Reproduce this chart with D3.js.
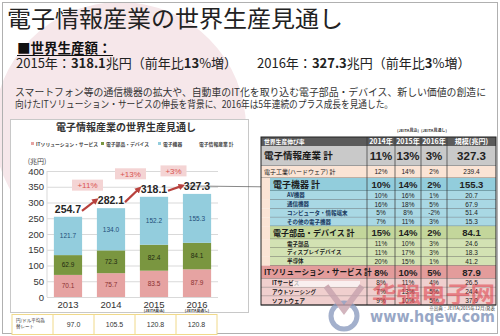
<!DOCTYPE html>
<html><head><meta charset="utf-8">
<script src="https://cdn.jsdelivr.net/npm/d3@7"></script>
<style>body{margin:0;background:#fff}svg{display:block}</style>
</head><body>
<script>
// ---------- data ----------
const years = ["2013","2014","2015","2016"];
const yearNotes = ["","","(JEITA見込)","(JEITA見通し)"];
const itService = [70.1, 75.7, 83.5, 87.9];
const devices = [62.9, 72.3, 82.4, 84.1];
const equipment = [121.7, 134.0, 152.2, 155.3];
const totals = [254.7, 282.1, 318.1, 327.3];
const growthLabels = ["+11%","+13%","+3%"];
const yTicks = [0,50,100,150,200,250,300,350,400];
const fxRates = ["97.0","105.5","120.8","120.8"];
const seriesNames = ["ITソリューション・サービス","電子部品・デバイス","電子機器","電子情報産業 計"];

const tableHeaders = ["世界生産伸び率","2014年","2015年","2016年","規模(兆円)"];
const rowLabels = ["電子情報産業 計","電子工業(ハードウェア) 計","電子機器 計","AV機器","通信機器","コンピュータ・情報端末","その他の電子機器","電子部品・デバイス 計","電子部品","ディスプレイデバイス","半導体","ITソリューション・サービス 計","ITサービス","アウトソーシング","ソフトウェア"];
const growth2014 = [11,12,10,10,16,5,7,15,11,11,20,8,8,7,9];
const growth2015 = [13,14,14,16,18,8,11,14,10,17,15,10,11,13,10];
const growth2016 = [3,2,2,1,5,-2,3,2,3,3,1,5,4,5,5];
const scaleTrillion = ["327.3","239.4","155.3","20.7","67.9","51.4","15.3","84.1","24.6","18.3","41.2","87.9","26.5","24.4","37.0"];

// ---------- styles ----------
const JP = "'Noto Sans CJK JP','Noto Sans',sans-serif";
const NUM = "'Liberation Sans',Arial,sans-serif";
const C = {it:"#e6a3a2", dev:"#7a9640", eq:"#93cddd", red:"#b8413d"};

const svg = d3.select("body").append("svg").attr("width",500).attr("height",336);
svg.append("rect").attr("width",500).attr("height",336).attr("fill","#fff");
svg.append("circle").attr("cx",120).attr("cy",128).attr("r",126).attr("fill","#f6e7ea");
svg.append("rect").attr("x",2.5).attr("y",2.5).attr("width",495).attr("height",331)
  .attr("fill","none").attr("stroke","#b0b0b0");

// text helper: tiny sizes are drawn at 10px and scaled (browser min font size)
function txt(parent, x, y, size, str, o={}){
  const small = size < 7;
  return parent.append("text")
    .attr("transform", small ? `translate(${x},${y}) scale(${size/10})` : null)
    .attr("x", small?0:x).attr("y", small?0:y)
    .attr("font-size", small?10:size)
    .attr("font-family", o.font||JP)
    .attr("font-weight", o.bold?"bold":"normal")
    .attr("fill", o.fill||"#333")
    .attr("text-anchor", o.anchor||"start")
    .text(str);
}

// ---------- slide header ----------
svg.append("text").attr("x",7).attr("y",27).attr("font-family",JP).attr("font-size",23)
  .attr("fill","#222").attr("textLength",336).attr("lengthAdjust","spacingAndGlyphs").text("電子情報産業の世界生産見通し");
svg.append("text").attr("x",17).attr("y",53).attr("font-family",JP).attr("font-size",13.5)
  .attr("font-weight","bold").attr("fill","#111").text("■世界生産額：");
svg.append("line").attr("x1",17).attr("x2",113).attr("y1",55.5).attr("y2",55.5).attr("stroke","#111").attr("stroke-width",1.2);

function richLine(x, y, parts){
  const t = svg.append("text").attr("x",x).attr("y",y).attr("font-family",JP).attr("font-size",13).attr("fill","#222");
  parts.forEach(p=>t.append("tspan").attr("font-weight",p[1]?"bold":"normal").text(p[0]));
}
richLine(16,68,[["2015年：",0],["318.1",1],["兆円（前年比",0],["13",1],["%増）",0]]);
richLine(257,68,[["2016年：",0],["327.3",1],["兆円（前年比",0],["3",1],["%増）",0]]);
svg.append("text").attr("x",15).attr("y",96).attr("font-family",JP).attr("font-size",10).attr("fill","#333")
  .attr("textLength",471).attr("lengthAdjust","spacingAndGlyphs")
  .text("スマートフォン等の通信機器の拡大や、自動車のIT化を取り込む電子部品・デバイス、新しい価値の創造に");
svg.append("text").attr("x",15).attr("y",108).attr("font-family",JP).attr("font-size",10).attr("fill","#333")
  .attr("textLength",378).attr("lengthAdjust","spacingAndGlyphs")
  .text("向けたITソリューション・サービスの伸長を背景に、2016年は5年連続のプラス成長を見通した。");

// ---------- chart card ----------
svg.append("rect").attr("x",10.5).attr("y",119.5).attr("width",238).attr("height",193)
  .attr("fill","#fff").attr("stroke","#c8c8c8");
svg.append("text").attr("x",126).attr("y",131).attr("text-anchor","middle").attr("font-family",JP)
  .attr("font-size",10).attr("font-weight","bold").attr("fill","#333").text("電子情報産業の世界生産見通し");

// legend
const legX = [31,101,158,197];
const legCol = [C.it, C.dev, C.eq, null];
seriesNames.forEach((n,i)=>{
  if(legCol[i]) svg.append("rect").attr("x",legX[i]).attr("y",142).attr("width",3).attr("height",3).attr("fill",legCol[i]);
  txt(svg, legX[i]+(legCol[i]?5:2), 145.5, 4.8, n, {bold:true, fill:"#444"});
});

const x = d3.scaleBand().domain(years).range([47,218]).paddingInner(0.344).paddingOuter(0.16);
const y = d3.scaleLinear().domain([0,400]).range([297,171]);

// grid
svg.append("g").attr("transform","translate(47,0)")
  .call(d3.axisLeft(y).tickValues(yTicks).tickSize(-171).tickFormat(""))
  .call(g=>g.select(".domain").remove())
  .call(g=>g.selectAll("line").attr("stroke","#d9d9d9"));
svg.append("line").attr("x1",47).attr("x2",47).attr("y1",y(400)).attr("y2",y(0)).attr("stroke","#d9d9d9");
// y axis labels
svg.append("g").attr("transform","translate(44,0)")
  .call(d3.axisLeft(y).tickValues(yTicks).tickSize(0).tickPadding(0))
  .call(g=>g.select(".domain").remove())
  .call(g=>g.selectAll("text").attr("font-family",NUM).attr("font-size",9.5).attr("fill","#333"));
svg.append("text").attr("x",37).attr("y",164).attr("text-anchor","middle").attr("font-family",JP)
  .attr("font-size",7).attr("fill","#444").text("(兆円)");

// stacked bars
const rows = years.map((yr,i)=>({year:yr, it:itService[i], dev:devices[i], eq:equipment[i]}));
const keys = ["it","dev","eq"];
const stack = d3.stack().keys(keys)(rows);
const labelCol = {it:"#8a3030", dev:"#1e2a10", eq:"#1f4e79"};
stack.forEach(s=>{
  const g = svg.append("g");
  g.selectAll("rect").data(s).join("rect")
    .attr("x",d=>x(d.data.year)).attr("width",x.bandwidth())
    .attr("y",d=>y(d[1])).attr("height",d=>y(d[0])-y(d[1])).attr("fill",C[s.key]);
  s.forEach(d=>{
    txt(g, x(d.data.year)+x.bandwidth()/2, (y(d[0])+y(d[1]))/2+2.3, 6.5, d.data[s.key].toFixed(1),
      {font:NUM, anchor:"middle", fill:labelCol[s.key]});
  });
});

// x labels
years.forEach((yr,i)=>{
  const cx = x(yr)+x.bandwidth()/2;
  svg.append("text").attr("x",cx).attr("y",308).attr("text-anchor","middle").attr("font-family",NUM)
    .attr("font-size",9.5).attr("fill","#333").text(yr);
  if(yearNotes[i]) txt(svg, cx, 312.3, 3.8, yearNotes[i], {anchor:"middle", bold:true});
});

// leader line to table
svg.append("line").attr("x1",185).attr("x2",270).attr("y1",y(totals[3])-8).attr("y2",y(totals[3])-7)
  .attr("stroke","#555").attr("stroke-width",0.7);

// totals
const baseY = totals.map(t=>y(t)-4);
const cxs = years.map(yr=>x(yr)+x.bandwidth()/2);
totals.forEach((t,i)=>{
  svg.append("text").attr("x",cxs[i]).attr("y",baseY[i]).attr("text-anchor","middle").attr("font-family",NUM)
    .attr("font-size",10.5).attr("font-weight","bold").attr("fill","#262626").text(t.toFixed(1));
});

// arrows
svg.append("defs").append("marker").attr("id","ah").attr("viewBox","0 0 10 10").attr("refX",5).attr("refY",5)
  .attr("markerWidth",3).attr("markerHeight",3).attr("orient","auto")
  .append("path").attr("d","M0,0L10,5L0,10z").attr("fill",C.red);
growthLabels.forEach((lab,i)=>{
  const x1 = cxs[i]+14, y1 = baseY[i]-2;
  const x2 = cxs[i+1]-15, y2 = baseY[i+1]-4;
  svg.append("line").attr("x1",x1).attr("y1",y1).attr("x2",x2).attr("y2",y2)
    .attr("stroke",C.red).attr("stroke-width",2.2).attr("marker-end","url(#ah)");
  const bx = (cxs[i]+cxs[i+1])/2 - 2, by = Math.min(baseY[i+1]-19, 186);
  const w = lab.length>3?31:26;
  svg.append("rect").attr("x",bx-w/2).attr("y",by-5.5).attr("width",w).attr("height",11).attr("fill","#f4d4d4");
  svg.append("text").attr("x",bx).attr("y",by+2.8).attr("text-anchor","middle").attr("font-family",NUM)
    .attr("font-size",8).attr("fill","#d9534f").text(lab);
});

// fx rate table
const xc = d3.scaleBand().domain(years).range([53,217]);
const fx = svg.append("g");
fx.append("rect").attr("x",12).attr("y",314.5).attr("width",205).attr("height",20).attr("fill","#fff")
  .attr("stroke","#f0d98a");
years.forEach((yr,i)=>{
  fx.append("line").attr("x1",xc(yr)).attr("x2",xc(yr)).attr("y1",314.5).attr("y2",334.5).attr("stroke","#f0d98a");
  fx.append("text").attr("x",xc(yr)+xc.bandwidth()/2).attr("y",327).attr("text-anchor","middle")
    .attr("font-family",NUM).attr("font-size",7).attr("fill","#333").text(fxRates[i]);
});
txt(fx, 16, 322, 4.5, "円/ドル平均為", {fill:"#333"});
txt(fx, 16, 328, 4.5, "替レート", {fill:"#333"});

// ---------- right table ----------
const colX = [261,367,395,421,447,496];
const rowType = ["grand","hw","sec","sub","sub","sub","sub","sec","sub","sub","sub","sec","sub","sub","sub"];
const rowFill = ["#c9c9c9","#fbe4d5","#92cddc","#a9d8e4","#a9d8e4","#a9d8e4","#a9d8e4","#c3d69b","#d3e2b3","#d3e2b3","#d3e2b3","#e39c9b","#f0cfce","#f0cfce","#f0cfce"];
const rowH = {grand:20, hw:12, sec:13, sub:8.8};
const rowIndentX = [261,261,270,270,270,270,270,270,270,270,270,261,261,261,261];
const labelX = [264,264,273,287,287,287,287,273,287,287,287,264,272,272,272];
const labelSize = [9.5,6,9,5.5,5.5,5.5,5.5,8,5.5,5.5,5.5,7.6,5.5,5.5,5.5];
const valueSize = {grand:11.5, hw:6.5, sec:9.5, sub:6.5};
const tg = svg.append("g");
const headY = 137, headH = 9;
tg.append("rect").attr("x",colX[0]).attr("y",headY).attr("width",colX[5]-colX[0]).attr("height",headH).attr("fill","#5b5b5b");
tableHeaders.forEach((h,i)=>{
  const cx = i===0 ? colX[0]+3 : (colX[i]+colX[i+1])/2;
  txt(tg, cx, headY+6.8, i===0?5.8:7, h, {anchor:i===0?"start":"middle", bold:true, fill:"#fff"});
});
txt(tg, (colX[2]+colX[3])/2, 132, 4, "(JEITA見込)", {anchor:"middle", bold:true});
txt(tg, (colX[3]+colX[4])/2, 132, 4, "(JEITA見通し)", {anchor:"middle", bold:true});

let cy = headY+headH;
rowLabels.forEach((lab,i)=>{
  const t = rowType[i];
  const h = rowH[t];
  if(rowIndentX[i]>colX[0]) tg.append("rect").attr("x",colX[0]).attr("y",cy).attr("width",rowIndentX[i]-colX[0]).attr("height",h).attr("fill","#fbe4d5");
  tg.append("rect").attr("x",rowIndentX[i]).attr("y",cy).attr("width",colX[5]-rowIndentX[i]).attr("height",h).attr("fill",rowFill[i]);
  const fsL = labelSize[i];
  const fsV = valueSize[t];
  const mid = cy+h/2;
  txt(tg, labelX[i], mid+fsL*0.36, fsL, lab, {bold:t!=="hw", fill:(t==="sub"&&i<7)?"#17375e":"#1a1a1a"});
  const vals = [growth2014[i]+"%", growth2015[i]+"%", growth2016[i]+"%", scaleTrillion[i]];
  vals.forEach((v,j)=>{
    txt(tg, (colX[j+1]+colX[j+2])/2, mid+fsV*0.36, fsV, v,
      {font:NUM, anchor:"middle", bold:t==="grand"||t==="sec", fill:"#222"});
  });
  tg.append("line").attr("x1",rowIndentX[i]).attr("x2",colX[5]).attr("y1",cy+h).attr("y2",cy+h).attr("stroke","#333").attr("stroke-width",0.6);
  cy += h;
});
const tableBottom = cy;
[1,2,3,4].forEach(k=>tg.append("line").attr("x1",colX[k]).attr("x2",colX[k]).attr("y1",headY).attr("y2",tableBottom)
  .attr("stroke","#333").attr("stroke-width",0.7));
tg.append("rect").attr("x",colX[0]).attr("y",headY).attr("width",colX[5]-colX[0]).attr("height",tableBottom-headY)
  .attr("fill","none").attr("stroke","#222").attr("stroke-width",1);
txt(tg, 495, tableBottom+5, 4.5, "※出典：JEITA(2015年12月)発表", {anchor:"end"});

// ---------- watermark ----------
const wm = svg.append("g").attr("opacity",0.8);
wm.append("rect").attr("x",293).attr("y",281).attr("width",67).attr("height",6).attr("fill","#fff").attr("opacity",0.85);
wm.append("circle").attr("cx",344).attr("cy",316).attr("r",13).attr("fill","none").attr("stroke","#8d9dc0").attr("stroke-width",5);
wm.append("path").attr("d","M326,286 L344,310 L362,286").attr("fill","none").attr("stroke","#c7a3ae").attr("stroke-width",6);
wm.append("text").attr("x",372).attr("y",302).attr("font-family","'Noto Sans CJK SC',sans-serif").attr("font-size",22)
  .attr("font-weight","bold").attr("fill","#e0404a").attr("opacity",0.7).attr("textLength",123).attr("lengthAdjust","spacingAndGlyphs").text("华强电子网");
wm.append("text").attr("x",370).attr("y",322).attr("font-family","'DejaVu Sans',sans-serif").attr("font-size",15)
  .attr("font-weight","bold").attr("fill","#7f92b8").attr("textLength",125).attr("lengthAdjust","spacingAndGlyphs").text("www.hqew.com");
</script>
</body></html>
